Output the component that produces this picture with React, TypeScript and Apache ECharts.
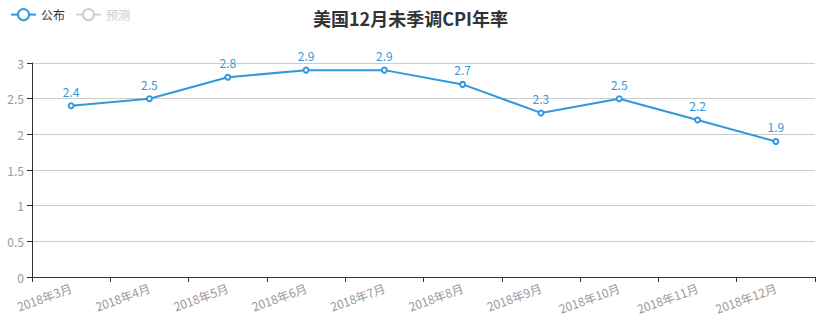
import React, { useEffect, useRef } from "react";
import * as echarts from "echarts";

const title = "美国12月未季调CPI年率";
const categories = ["2018年3月", "2018年4月", "2018年5月", "2018年6月", "2018年7月", "2018年8月", "2018年9月", "2018年10月", "2018年11月", "2018年12月"];
const published = [2.4, 2.5, 2.8, 2.9, 2.9, 2.7, 2.3, 2.5, 2.2, 1.9];
const forecast: number[] = [];
const yTicks = [0, 0.5, 1, 1.5, 2, 2.5, 3];

const FONT = "'Noto Sans CJK SC', 'Noto Sans', sans-serif";

export default function App() {
  const ref = useRef<HTMLDivElement>(null);
  useEffect(() => {
    const chart = echarts.init(ref.current!, null, { renderer: "svg" });
    chart.setOption({
      animation: false,
      textStyle: { fontFamily: FONT },
      title: {
        text: title,
        left: "center",
        top: 4,
        textStyle: { fontSize: 18, fontWeight: "bold", color: "#333", fontFamily: FONT },
      },
      legend: {
        left: 5,
        top: 3,
        itemWidth: 25,
        itemHeight: 14,
        itemGap: 10,
        textStyle: { fontSize: 12, color: "#333", fontFamily: FONT },
        inactiveColor: "#ccc",
        data: ["公布", "预测"],
        selected: { "公布": true, "预测": false },
      },
      grid: { left: 32, right: 6, top: 63, bottom: 53, containLabel: false },
      xAxis: {
        type: "category",
        data: categories,
        boundaryGap: true,
        axisLine: { lineStyle: { color: "#333" } },
        axisTick: { show: true, alignWithLabel: false, lineStyle: { color: "#333" } },
        axisLabel: { rotate: 20, color: "#999", fontSize: 12, margin: 10, interval: 0, fontFamily: FONT },
      },
      yAxis: {
        type: "value",
        min: yTicks[0],
        max: yTicks[yTicks.length - 1],
        interval: 0.5,
        axisLine: { show: true, lineStyle: { color: "#333" } },
        axisTick: { show: true, lineStyle: { color: "#333" } },
        axisLabel: { color: "#999", fontSize: 12, fontFamily: FONT },
        splitLine: { lineStyle: { color: "#ccc" } },
      },
      series: [
        {
          name: "公布",
          type: "line",
          data: published,
          symbol: "emptyCircle",
          symbolSize: 5,
          itemStyle: { color: "#3398db" },
          lineStyle: { width: 2, color: "#3398db" },
          label: { show: true, position: "top", color: "#3398db", fontSize: 12, fontFamily: FONT },
        },
        {
          name: "预测",
          type: "line",
          data: forecast,
          symbol: "emptyCircle",
          itemStyle: { color: "#f39c12" },
        },
      ],
    });
    return () => chart.dispose();
  }, []);
  return <div ref={ref} style={{ width: 821, height: 330, position: "absolute", left: 0, top: 0 }} />;
}
